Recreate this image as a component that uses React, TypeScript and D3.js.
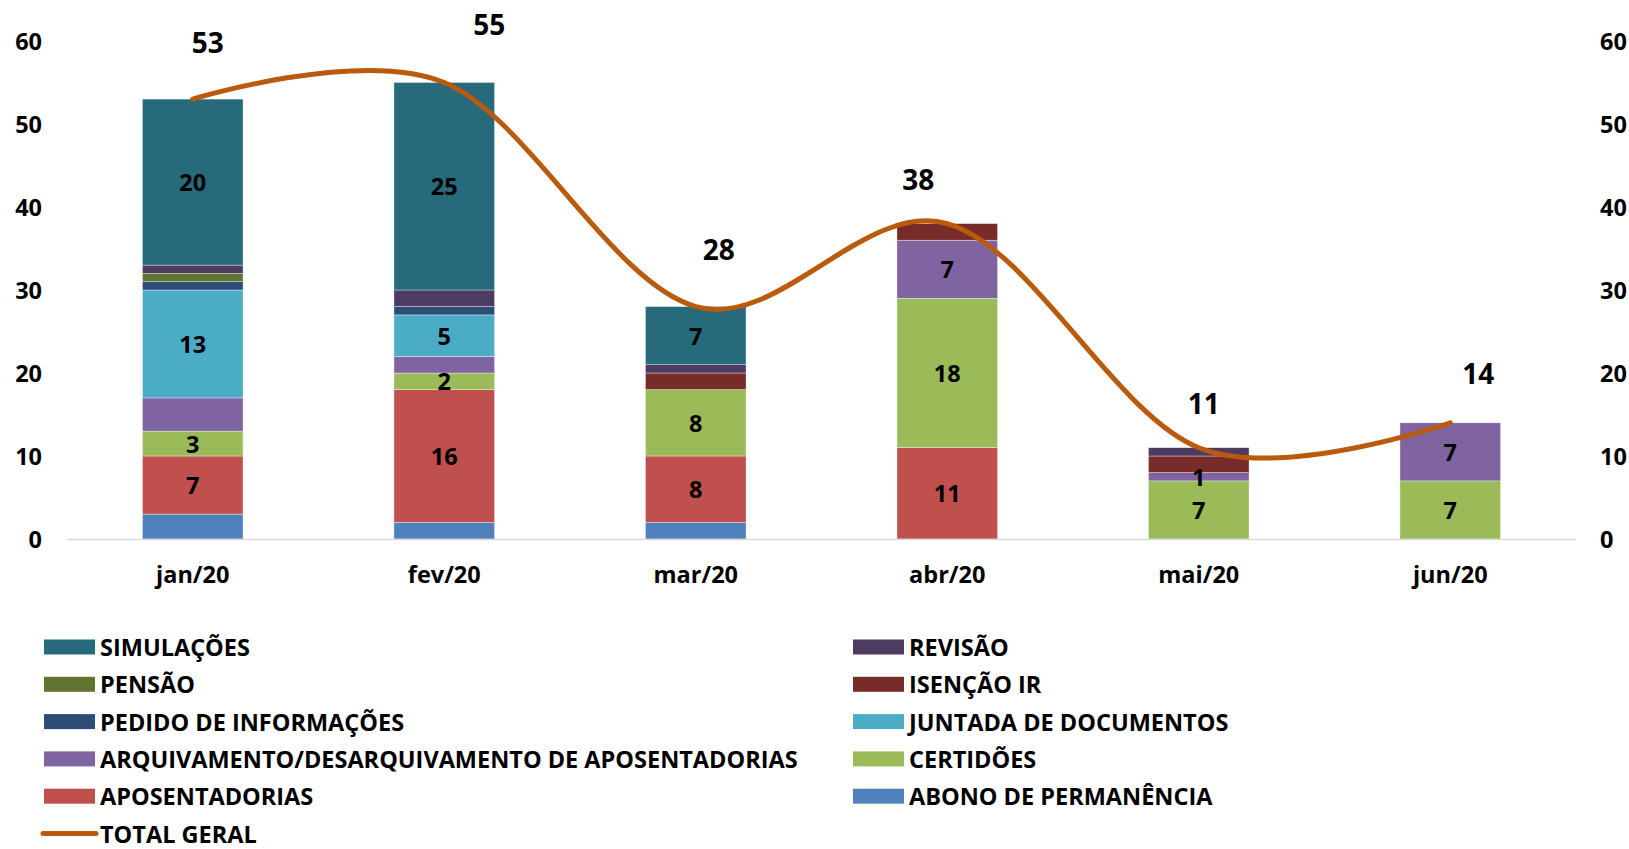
import React, { useEffect, useRef } from 'react';
import * as d3 from 'd3';

// months on the x axis
const months = ['jan/20', 'fev/20', 'mar/20', 'abr/20', 'mai/20', 'jun/20'];

// series, bottom of the stack first
const seriesNames = [
  'ABONO DE PERMANÊNCIA',
  'APOSENTADORIAS',
  'CERTIDÕES',
  'ARQUIVAMENTO/DESARQUIVAMENTO DE APOSENTADORIAS',
  'JUNTADA DE DOCUMENTOS',
  'PEDIDO DE INFORMAÇÕES',
  'ISENÇÃO IR',
  'PENSÃO',
  'REVISÃO',
  'SIMULAÇÕES',
];
const seriesColors = [
  '#4F81BD', '#C0504D', '#9BBB59', '#8064A2', '#4BACC6',
  '#2C4D75', '#772C2A', '#5F7530', '#4D3B62', '#276A7C',
];

const abono = [3, 2, 2, 0, 0, 0];
const aposentadorias = [7, 16, 8, 11, 0, 0];
const certidoes = [3, 2, 8, 18, 7, 7];
const arquivamento = [4, 2, 0, 7, 1, 7];
const juntada = [13, 5, 0, 0, 0, 0];
const pedido = [1, 1, 0, 0, 0, 0];
const isencao = [0, 0, 2, 2, 2, 0];
const pensao = [1, 0, 0, 0, 0, 0];
const revisao = [1, 2, 1, 0, 1, 0];
const simulacoes = [20, 25, 7, 0, 0, 0];
const totalGeral = [53, 55, 28, 38, 11, 14];

// which series carry value labels inside the bars
const labeledSeries = ['APOSENTADORIAS', 'CERTIDÕES', 'ARQUIVAMENTO/DESARQUIVAMENTO DE APOSENTADORIAS', 'JUNTADA DE DOCUMENTOS', 'SIMULAÇÕES'];
const hiddenLabels = [['ARQUIVAMENTO/DESARQUIVAMENTO DE APOSENTADORIAS', 'jan/20'], ['ARQUIVAMENTO/DESARQUIVAMENTO DE APOSENTADORIAS', 'fev/20']];

const yTicks = [0, 10, 20, 30, 40, 50, 60];

// hand placed total labels (dx, dy from the line point), as in the original
const totalLabelNudge = [[15, -57], [45, -59], [23, -58], [-29, -45], [5, -45], [28, -50]];

export default function App() {
  const svgRef = useRef<SVGSVGElement>(null);

  useEffect(() => {
    if (!svgRef.current) return;
    const width = 1629;
    const height = 849;
    const font = '"Open Sans", "Noto Sans", sans-serif';
    const fs = 23.5;

    const values = [abono, aposentadorias, certidoes, arquivamento, juntada, pedido, isencao, pensao, revisao, simulacoes];
    const table = months.map((m, i) => {
      const row: any = { month: m };
      seriesNames.forEach((s, k) => { row[s] = values[k][i]; });
      return row;
    });

    const svg = d3.select(svgRef.current);
    svg.selectAll('*').remove();
    svg.attr('width', width).attr('height', height).style('background', '#fff');

    const x = d3.scaleBand().domain(months).range([67, 1576]).paddingInner(0.6).paddingOuter(0.3);
    const y = d3.scaleLinear().domain([0, 60]).range([539, 41]);

    const stacked = d3.stack().keys(seriesNames)(table);

    // bars
    stacked.forEach((layer, k) => {
      svg.append('g')
        .selectAll('rect')
        .data(layer.filter(d => d[1] - d[0] > 0))
        .join('rect')
        .attr('x', d => x(d.data.month as string)!)
        .attr('width', x.bandwidth())
        .attr('y', d => y(d[1]))
        .attr('height', d => y(d[0]) - y(d[1]))
        .attr('fill', seriesColors[k])
        .attr('stroke', 'rgba(255,255,255,0.6)')
        .attr('stroke-width', 0.6);
    });

    // value labels in the bars
    stacked.forEach(layer => {
      if (!labeledSeries.includes(layer.key)) return;
      layer.forEach(d => {
        const v = d[1] - d[0];
        const m = d.data.month as string;
        if (v <= 0) return;
        if (hiddenLabels.some(h => h[0] === layer.key && h[1] === m)) return;
        svg.append('text')
          .attr('x', x(m)! + x.bandwidth() / 2)
          .attr('y', y((d[0] + d[1]) / 2))
          .attr('text-anchor', 'middle')
          .attr('dominant-baseline', 'central')
          .attr('font-family', font)
          .attr('font-weight', 'bold')
          .attr('font-size', fs)
          .attr('fill', '#000')
          .text(v);
      });
    });

    // baseline
    svg.append('line')
      .attr('x1', 67).attr('x2', 1576)
      .attr('y1', y(0) + 0.5).attr('y2', y(0) + 0.5)
      .attr('stroke', '#D9D9D9').attr('stroke-width', 1.5);

    // axes labels (left and right)
    yTicks.forEach(t => {
      svg.append('text')
        .attr('x', 42).attr('y', y(t))
        .attr('text-anchor', 'end').attr('dominant-baseline', 'central')
        .attr('font-family', font).attr('font-weight', 'bold').attr('font-size', fs)
        .text(t);
      svg.append('text')
        .attr('x', 1600).attr('y', y(t))
        .attr('text-anchor', 'start').attr('dominant-baseline', 'central')
        .attr('font-family', font).attr('font-weight', 'bold').attr('font-size', fs)
        .text(t);
    });

    months.forEach(m => {
      svg.append('text')
        .attr('x', x(m)! + x.bandwidth() / 2).attr('y', 574)
        .attr('text-anchor', 'middle').attr('dominant-baseline', 'central')
        .attr('font-family', font).attr('font-weight', 'bold').attr('font-size', fs)
        .text(m);
    });

    // total line
    const line = d3.line<number>()
      .x((_, i) => x(months[i])! + x.bandwidth() / 2)
      .y(d => y(d))
      .curve(d3.curveCardinal.tension(0));
    svg.append('path')
      .attr('d', line(totalGeral))
      .attr('fill', 'none')
      .attr('stroke', '#BA5A0C')
      .attr('stroke-width', 5)
      .attr('stroke-linecap', 'round');

    totalGeral.forEach((v, i) => {
      svg.append('text')
        .attr('x', x(months[i])! + x.bandwidth() / 2 + totalLabelNudge[i][0])
        .attr('y', y(v) + totalLabelNudge[i][1])
        .attr('text-anchor', 'middle').attr('dominant-baseline', 'central')
        .attr('font-family', font).attr('font-weight', 'bold').attr('font-size', 28)
        .text(v);
    });

    // legend, two columns, top series first
    const legendItems = [...seriesNames.map((s, k) => ({ name: s, color: seriesColors[k], isLine: false })).reverse(),
      { name: 'TOTAL GERAL', color: '#BA5A0C', isLine: true }];
    const colX = [44, 853];
    legendItems.forEach((d, i) => {
      const cx = colX[i % 2];
      const cy = 647 + Math.floor(i / 2) * 37.3;
      if (d.isLine) {
        svg.append('line')
          .attr('x1', cx - 1).attr('x2', cx + 52)
          .attr('y1', cy).attr('y2', cy)
          .attr('stroke', d.color).attr('stroke-width', 5).attr('stroke-linecap', 'round');
      } else {
        svg.append('rect')
          .attr('x', cx).attr('y', cy - 7.5)
          .attr('width', 51).attr('height', 15)
          .attr('fill', d.color);
      }
      svg.append('text')
        .attr('x', cx + 56).attr('y', cy)
        .attr('dominant-baseline', 'central')
        .attr('font-family', font).attr('font-weight', 'bold').attr('font-size', fs)
        .text(d.name);
    });
  }, []);

  return (
    <div style={{ position: 'absolute', left: 0, top: 0 }}>
      <svg ref={svgRef} style={{ display: 'block' }}></svg>
    </div>
  );
}
